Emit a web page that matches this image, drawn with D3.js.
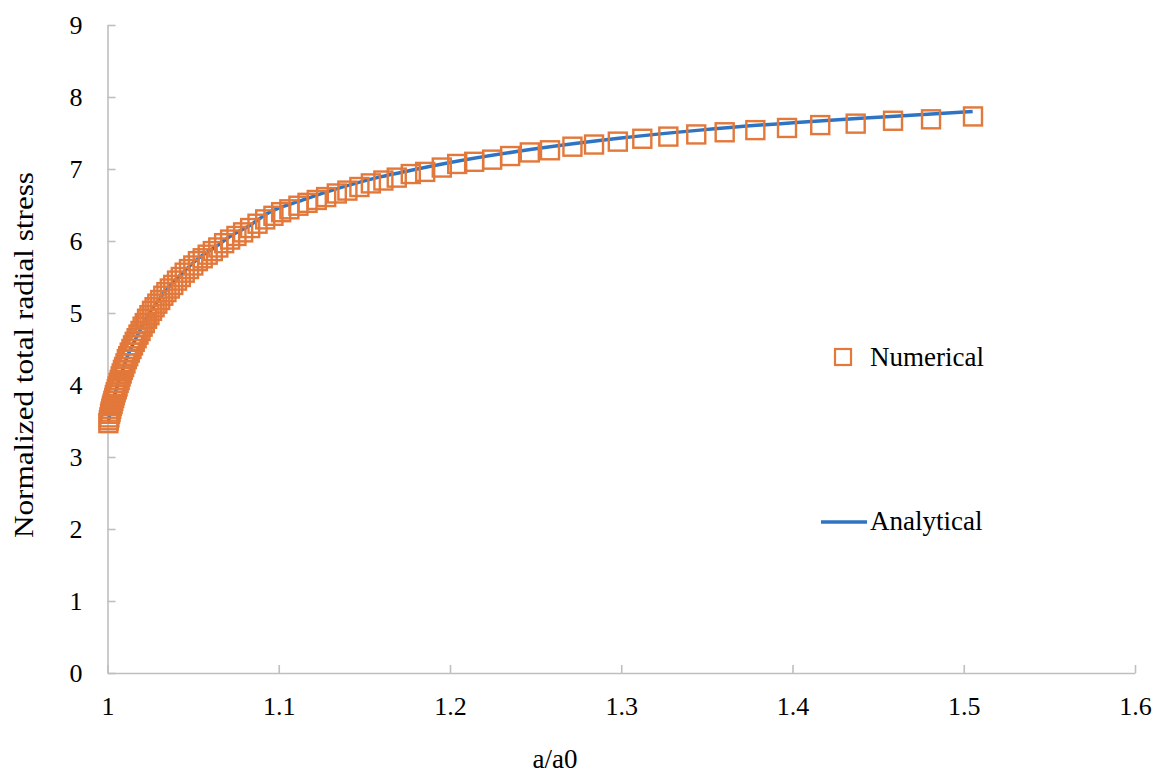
<!DOCTYPE html>
<html>
  <head>
    <meta charset="utf-8">
    <title>radial stress</title>
    <script src="https://d3js.org/d3.v7.min.js"></script>
    <style type="text/css">
    body { margin: 0; background: #fff; }
    text { font-family: "Liberation Serif", "Times New Roman", serif; fill: #000; }
    .axis path, .axis line { stroke: #bfbfbf; stroke-width: 1.6px; }
    </style>
  </head>
  <body>
    <div id="chart"></div>
    <script>
    // numerical results (squares)
    var numX = [1.0005, 1.0008, 1.0011, 1.0015, 1.0018, 1.0022, 1.0026, 1.0030, 1.0034, 1.0039,
                1.0043, 1.0048, 1.0054, 1.0059, 1.0065, 1.0071, 1.0077, 1.0083, 1.0090, 1.0097,
                1.0105, 1.0113, 1.0121, 1.0130, 1.0140, 1.0149, 1.0159, 1.0170, 1.0181, 1.0193,
                1.0205, 1.0218, 1.0231, 1.0245, 1.0260, 1.0275, 1.0291, 1.0308, 1.0326, 1.0344,
                1.0364, 1.0384, 1.0406, 1.0428, 1.0451, 1.0476, 1.0501, 1.0528, 1.0556, 1.0585,
                1.0615, 1.0647, 1.0681, 1.0716, 1.0753, 1.0792, 1.0833, 1.0876, 1.0921, 1.0969,
                1.1014, 1.1062, 1.1115, 1.1168, 1.1222, 1.1277, 1.1339, 1.1401, 1.1471, 1.1538,
                1.1611, 1.1689, 1.1771, 1.1855, 1.1952, 1.2042, 1.2141, 1.2246, 1.2351, 1.2466,
                1.2584, 1.2715, 1.2841, 1.2980, 1.3123, 1.3275, 1.3438, 1.3604, 1.3783, 1.3968,
                1.4162, 1.4369, 1.4587, 1.4809, 1.5054];
    var numY = [3.47, 3.51, 3.55, 3.60, 3.63, 3.67, 3.71, 3.74, 3.78, 3.82,
                3.86, 3.90, 3.94, 3.98, 4.03, 4.07, 4.12, 4.16, 4.21, 4.25,
                4.30, 4.36, 4.40, 4.45, 4.50, 4.55, 4.60, 4.65, 4.70, 4.75,
                4.81, 4.86, 4.92, 4.97, 5.03, 5.08, 5.13, 5.18, 5.24, 5.29,
                5.34, 5.39, 5.45, 5.50, 5.56, 5.61, 5.66, 5.72, 5.76, 5.81,
                5.86, 5.91, 5.97, 6.02, 6.07, 6.12, 6.18, 6.24, 6.30, 6.35,
                6.40, 6.44, 6.49, 6.53, 6.57, 6.61, 6.66, 6.70, 6.75, 6.80,
                6.84, 6.88, 6.93, 6.96, 7.02, 7.07, 7.10, 7.13, 7.18, 7.23,
                7.26, 7.31, 7.34, 7.38, 7.42, 7.45, 7.48, 7.51, 7.54, 7.57,
                7.61, 7.63, 7.67, 7.69, 7.73];

    // analytical solution (line)
    var anaX = [1.0006, 1.0016, 1.0027, 1.0039, 1.0055, 1.0068, 1.0086, 1.0113, 1.0158, 1.0201,
                1.0239, 1.0298, 1.0366, 1.0405, 1.0444, 1.0483, 1.0560, 1.0619, 1.0726, 1.0833,
                1.0931, 1.1142, 1.1592, 1.1767, 1.2001, 1.2499, 1.2999, 1.3460, 1.4044, 1.4500,
                1.5052];
    var anaY = [3.49, 3.63, 3.74, 3.84, 3.97, 4.08, 4.19, 4.38, 4.61, 4.81,
                4.98, 5.18, 5.38, 5.48, 5.57, 5.66, 5.81, 5.90, 6.08, 6.22,
                6.38, 6.57, 6.89, 6.98, 7.09, 7.28, 7.43, 7.54, 7.65, 7.72,
                7.80];

    var xTicks = [1, 1.1, 1.2, 1.3, 1.4, 1.5, 1.6];
    var yTicks = [0, 1, 2, 3, 4, 5, 6, 7, 8, 9];

    var width = 1164,
        height = 776,
        orange = "#e2783a",
        blue = "#2e74c2";

    var svg = d3.select('#chart').append('svg')
        .attr('width', width)
        .attr('height', height);

    var x = d3.scaleLinear().domain([1, 1.6]).range([107.5, 1135]);
    var y = d3.scaleLinear().domain([0, 9]).range([673, 25]);

    // axes, ticks pointing inward
    svg.append('g')
        .attr('class', 'axis')
        .attr('transform', 'translate(0,' + y(0) + ')')
        .call(d3.axisBottom(x).tickValues(xTicks).tickSize(-8).tickSizeOuter(0).tickPadding(24)
            .tickFormat(function(d){ return String(d); }))
        .selectAll('text').style('font-size', '26px').style('font-family', '"Liberation Serif", serif');

    svg.append('g')
        .attr('class', 'axis')
        .attr('transform', 'translate(' + x(1) + ',0)')
        .call(d3.axisLeft(y).tickValues(yTicks).tickSize(-8).tickSizeOuter(0).tickPadding(25))
        .selectAll('text').style('font-size', '26px').style('font-family', '"Liberation Serif", serif');

    // analytical curve
    var pts = anaX.map(function(d, i){ return [d, anaY[i]]; });
    svg.append('path')
        .datum(pts)
        .attr('fill', 'none')
        .attr('stroke', blue)
        .attr('stroke-width', 3.5)
        .attr('d', d3.line()
            .x(function(d){ return x(d[0]); })
            .y(function(d){ return y(d[1]); })
            .curve(d3.curveMonotoneX));

    // numerical squares
    var sq = 18;
    svg.selectAll('rect.num')
        .data(numX.map(function(d, i){ return [d, numY[i]]; }))
        .enter()
        .append('rect')
        .attr('class', 'num')
        .attr('x', function(d){ return x(d[0]) - sq / 2; })
        .attr('y', function(d){ return y(d[1]) - sq / 2; })
        .attr('width', sq)
        .attr('height', sq)
        .attr('fill', 'none')
        .attr('stroke', orange)
        .attr('stroke-width', 2.4);

    // axis titles
    svg.append('text')
        .attr('transform', 'translate(33,355) rotate(-90)')
        .attr('text-anchor', 'middle')
        .attr('textLength', 366)
        .attr('lengthAdjust', 'spacingAndGlyphs')
        .style('font-size', '27px')
        .text('Normalized total radial stress');

    svg.append('text')
        .attr('x', 555)
        .attr('y', 768)
        .attr('text-anchor', 'middle')
        .style('font-size', '27px')
        .text('a/a0');

    // legend
    svg.append('rect')
        .attr('x', 835).attr('y', 349)
        .attr('width', 16).attr('height', 16)
        .attr('fill', 'none')
        .attr('stroke', orange)
        .attr('stroke-width', 2.2);
    svg.append('text')
        .attr('x', 870).attr('y', 366)
        .style('font-size', '27px')
        .text('Numerical');

    svg.append('line')
        .attr('x1', 821).attr('x2', 867)
        .attr('y1', 522).attr('y2', 522)
        .attr('stroke', blue)
        .attr('stroke-width', 3.5);
    svg.append('text')
        .attr('x', 870).attr('y', 530)
        .style('font-size', '27px')
        .text('Analytical');
    </script>
  </body>
</html>
